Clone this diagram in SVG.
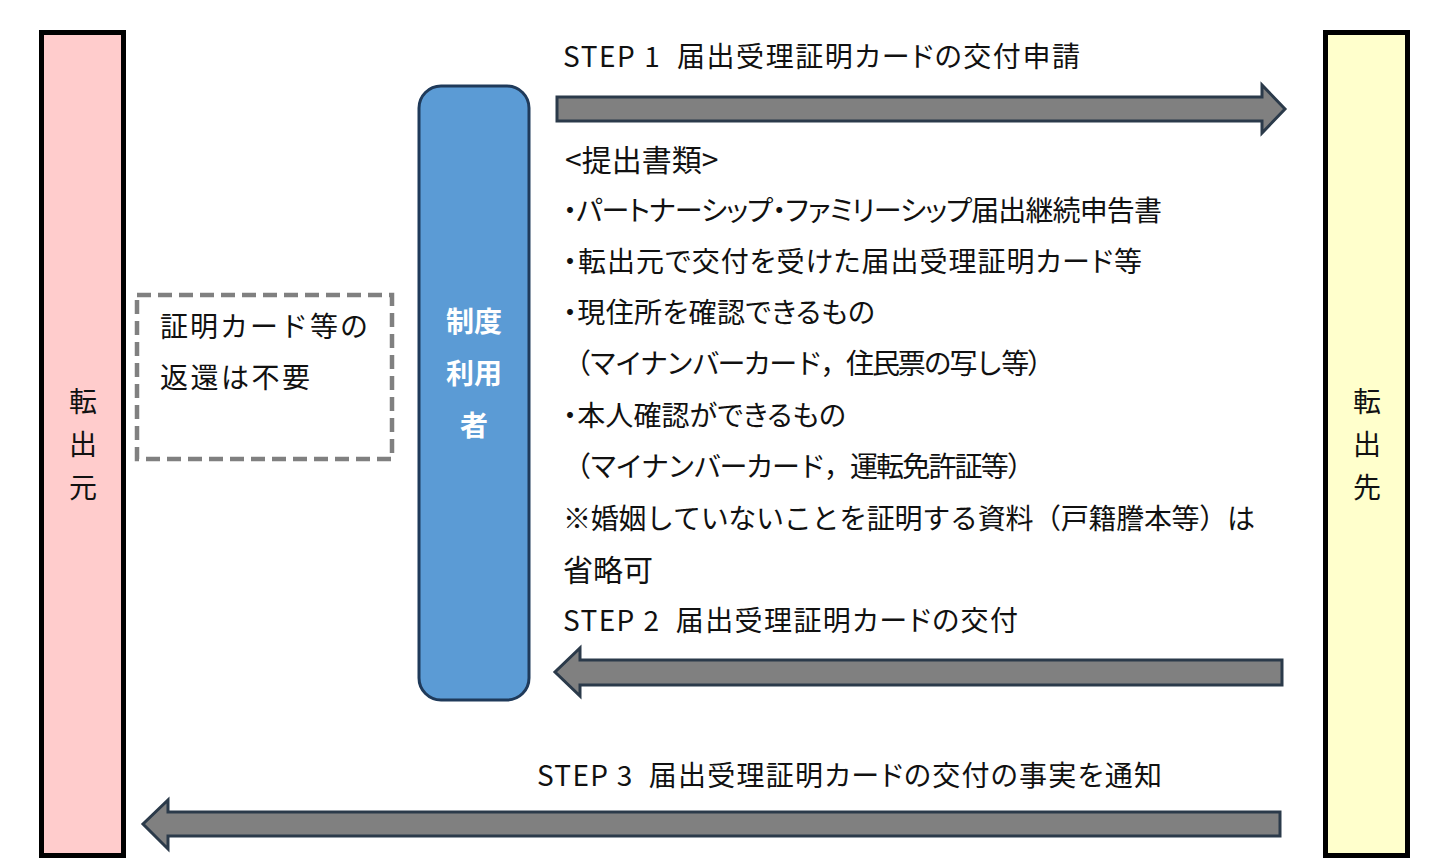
<svg xmlns="http://www.w3.org/2000/svg" width="1450" height="868" viewBox="0 0 1450 868">
<defs>
<style>
text{font-family:"Noto Sans CJK JP","Noto Sans",sans-serif;font-size:28px;fill:#111;}
.p{font-feature-settings:"palt";}
.big{font-size:30px;}
.pillar{stroke:#000;stroke-width:5;}
.arrow{fill:#808080;stroke:#2B3A4A;stroke-width:3;stroke-linejoin:miter;}
.user text{fill:#fff;font-weight:bold;}
.mid{text-anchor:middle;}
</style>
</defs>
<rect width="1450" height="868" fill="#fff"/>
<g id="tenshutsumoto">
<rect class="pillar" x="41.5" y="32.5" width="82" height="823" fill="#FFCCCC"/>
<text class="mid" x="83" y="412">転</text>
<text class="mid" x="83" y="455">出</text>
<text class="mid" x="83" y="498">元</text>
</g>
<g id="tenshutsusaki">
<rect class="pillar" x="1325.5" y="32.5" width="82" height="823" fill="#FFFFCC"/>
<text class="mid" x="1367" y="412">転</text>
<text class="mid" x="1367" y="455">出</text>
<text class="mid" x="1367" y="498">先</text>
</g>
<g id="note">
<rect x="137" y="295" width="255" height="164" fill="#fff" stroke="#808080" stroke-width="4.5" stroke-dasharray="14 7"/>
<text x="160" y="337" textLength="208">証明カード等の</text>
<text x="160" y="388" textLength="150">返還は不要</text>
</g>
<g id="user" class="user">
<rect x="419" y="86" width="110" height="614" rx="22" fill="#5B9BD5" stroke="#1F3A5A" stroke-width="3"/>
<text class="mid" x="474" y="332">制度</text>
<text class="mid" x="474" y="384">利用</text>
<text class="mid" x="474" y="436">者</text>
</g>
<g id="connectors">
<polygon class="arrow" points="557,97 1262,97 1262,85 1285,109 1262,133 1262,121 557,121"/>
<polygon class="arrow" points="1282,660 580,660 580,648 555,672 580,696 580,685 1282,685"/>
<polygon class="arrow" points="1280,812 168,812 168,800 143,824 168,849 168,836 1280,836"/>
</g>
<g id="labels">
<text class="p" x="563" y="67" textLength="517" xml:space="preserve">STEP 1  届出受理証明カードの交付申請</text>
<text class="p big" x="565" y="171">&lt;提出書類&gt;</text>
<text class="p" x="563" y="221" textLength="599">・パートナーシップ・ファミリーシップ届出継続申告書</text>
<text class="p" x="563" y="272" textLength="579">・転出元で交付を受けた届出受理証明カード等</text>
<text class="p" x="563" y="323" textLength="312">・現住所を確認できるもの</text>
<text x="563" y="374" textLength="492">（マイナンバーカード，住民票の写し等）</text>
<text class="p" x="563" y="426" textLength="283">・本人確認ができるもの</text>
<text x="563" y="477" textLength="472">（マイナンバーカード，運転免許証等）</text>
<text x="563" y="529" textLength="692">※婚姻していないことを証明する資料（戸籍謄本等）は</text>
<text class="big" x="563" y="581">省略可</text>
<text class="p" x="563" y="631" textLength="455" xml:space="preserve">STEP 2  届出受理証明カードの交付</text>
<text class="p" x="537" y="786" textLength="625" xml:space="preserve">STEP 3  届出受理証明カードの交付の事実を通知</text>
</g>
</svg>
